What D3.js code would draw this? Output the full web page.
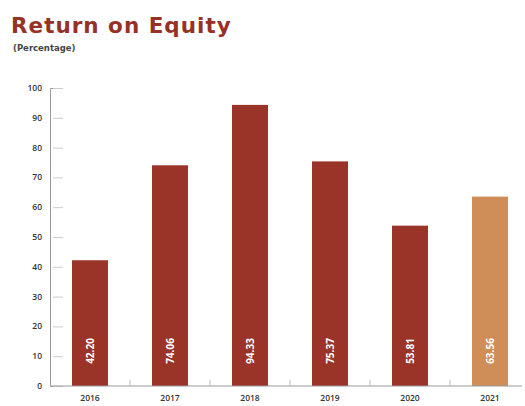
<!DOCTYPE html>
<html><head><meta charset="utf-8">
<script src="https://cdn.jsdelivr.net/npm/d3@7"></script>
<style>body{margin:0;background:#fff}svg{display:block}</style>
</head><body><svg id="c" width="525" height="406"></svg>
<script>
const years = ["2016","2017","2018","2019","2020","2021"];
const roe = [42.20, 74.06, 94.33, 75.37, 53.81, 63.56];
const valueLabels = ["42.20","74.06","94.33","75.37","53.81","63.56"];
const yTicks = [0,10,20,30,40,50,60,70,80,90,100];
const colors = ["#9a3328","#9a3328","#9a3328","#9a3328","#9a3328","#cf8d58"];

const svg = d3.select("#c");
const x = d3.scaleBand().domain(years).range([50,530]).paddingInner(0.55).paddingOuter(0.275);
const y = d3.scaleLinear().domain([0,100]).range([386,88]);

svg.append("text").attr("x",11).attr("y",33).text("Return on Equity")
  .attr("font-family","'DejaVu Sans', sans-serif").attr("font-weight",700)
  .attr("font-size",21.5).attr("fill","#963126").attr("letter-spacing",1);
svg.append("text").attr("x",13).attr("y",51).text("(Percentage)")
  .attr("font-family","'DejaVu Sans', sans-serif").attr("font-weight",600).attr("font-size",8.5).attr("fill","#444");

// y axis
const ya = svg.append("g").attr("transform","translate(50,0)")
  .call(d3.axisRight(y).tickValues(yTicks).tickSize(10).tickFormat(""));
ya.select(".domain").attr("stroke","#999");
ya.selectAll(".tick line").attr("stroke","#ccc").attr("transform","translate(3,0)");
svg.append("g").selectAll("text").data(yTicks).join("text")
  .attr("x",42).attr("y",d=>y(d)+3).attr("text-anchor","end")
  .attr("font-family","'Open Sans', sans-serif").attr("font-weight",600).attr("font-size",8.5).attr("fill","#333").text(d=>d);

// bars
svg.append("g").selectAll("rect").data(roe).join("rect")
  .attr("x",(d,i)=>x(years[i])).attr("width",x.bandwidth())
  .attr("y",d=>y(d)).attr("height",d=>y(0)-y(d)).attr("fill",(d,i)=>colors[i]);

// x axis line
svg.append("line").attr("x1",50).attr("x2",522).attr("y1",y(0)).attr("y2",y(0)).attr("stroke","#999");
const mids = years.slice(1).map(yr=>x(yr)-x.step()*x.paddingInner()/2);
svg.append("g").selectAll("line").data(mids).join("line")
  .attr("x1",d=>d).attr("x2",d=>d).attr("y1",y(0)-6).attr("y2",y(0)).attr("stroke","#bbb");
svg.append("g").selectAll("text").data(years).join("text")
  .attr("x",d=>x(d)+x.bandwidth()/2).attr("y",401).attr("text-anchor","middle")
  .attr("font-family","'Open Sans', sans-serif").attr("font-weight",600).attr("font-size",8.5).attr("fill","#333").text(d=>d);

// value labels
svg.append("g").selectAll("text").data(valueLabels).join("text")
  .attr("transform",(d,i)=>`translate(${x(years[i])+x.bandwidth()/2+3.5},351) rotate(-90)`)
  .attr("text-anchor","middle").attr("font-family","'Open Sans', sans-serif")
  .attr("font-weight",700).attr("font-size",10).attr("fill","#fff").text(d=>d);
</script></body></html>
